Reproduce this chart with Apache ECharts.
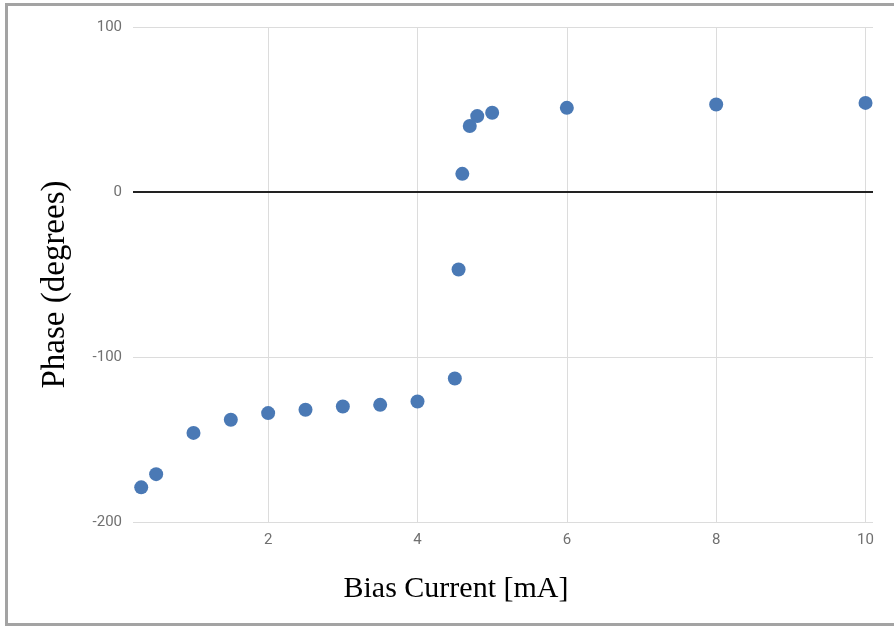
<!DOCTYPE html>
<html>
<head>
<meta charset="utf-8">
<script src="https://cdn.jsdelivr.net/npm/echarts@6/dist/echarts.min.js"></script>
<style>
html,body{margin:0;padding:0;background:#fff;}
#chart{width:894px;height:628px;}
</style>
</head>
<body>
<div id="chart"></div>
<script>
const biasCurrent = [0.3, 0.5, 1, 1.5, 2, 2.5, 3, 3.5, 4, 4.5, 4.55, 4.6, 4.7, 4.8, 5, 6, 8, 10];
const phase = [-179, -171, -146, -138, -134, -132, -130, -129, -127, -113, -47, 11, 40, 46, 48, 51, 53, 54];
const xTicks = [2, 4, 6, 8, 10];
const yTicks = [-200, -100, 0, 100];
const xTitle = 'Bias Current [mA]';
const yTitle = 'Phase (degrees)';

const chart = echarts.init(document.getElementById('chart'), null, {renderer: 'canvas'});
const points = biasCurrent.map((x, i) => [x, phase[i]]);
chart.setOption({
  animation: false,
  backgroundColor: '#fff',
  graphic: [{
    type: 'rect',
    shape: {x: 6.5, y: 4.5, width: 900, height: 620},
    style: {fill: 'none', stroke: '#a3a3a3', lineWidth: 3},
    silent: true, z: 100
  }],
  grid: {left: 133, right: 21, top: 27, bottom: 106},
  xAxis: {
    type: 'value',
    min: 0.19, max: 10.1,
    name: xTitle,
    nameLocation: 'middle',
    nameGap: 52,
    nameTextStyle: {fontFamily: 'Liberation Serif', fontSize: 30, color: '#000', padding: [0, 94, 0, 0]},
    axisLine: {show: false},
    axisTick: {show: false, customValues: xTicks},
    axisLabel: {customValues: xTicks, color: '#707070', fontSize: 15, fontFamily: 'Roboto', margin: 11},
    splitLine: {show: true, lineStyle: {color: '#dcdcdc', width: 1}}
  },
  yAxis: {
    type: 'value',
    min: yTicks[0], max: yTicks[yTicks.length - 1], interval: 100,
    name: yTitle,
    nameLocation: 'middle',
    nameGap: 61,
    nameTextStyle: {fontFamily: 'Liberation Serif', fontSize: 33, color: '#000', padding: [0, 20, 0, 0]},
    axisLine: {show: false},
    axisTick: {show: false},
    axisLabel: {color: '#707070', fontSize: 15, fontFamily: 'Roboto', margin: 11},
    splitLine: {show: true, lineStyle: {color: '#dcdcdc', width: 1}}
  },
  series: [{
    type: 'scatter',
    data: points,
    symbol: 'circle',
    symbolSize: 14,
    itemStyle: {color: '#4a79b5', opacity: 1},
    markLine: {
      silent: true,
      symbol: ['none', 'none'],
      label: {show: false},
      lineStyle: {color: '#222', width: 1.8, type: 'solid'},
      data: [{yAxis: 0}],
      z: 1
    },
    z: 5
  }]
});
</script>
</body>
</html>
